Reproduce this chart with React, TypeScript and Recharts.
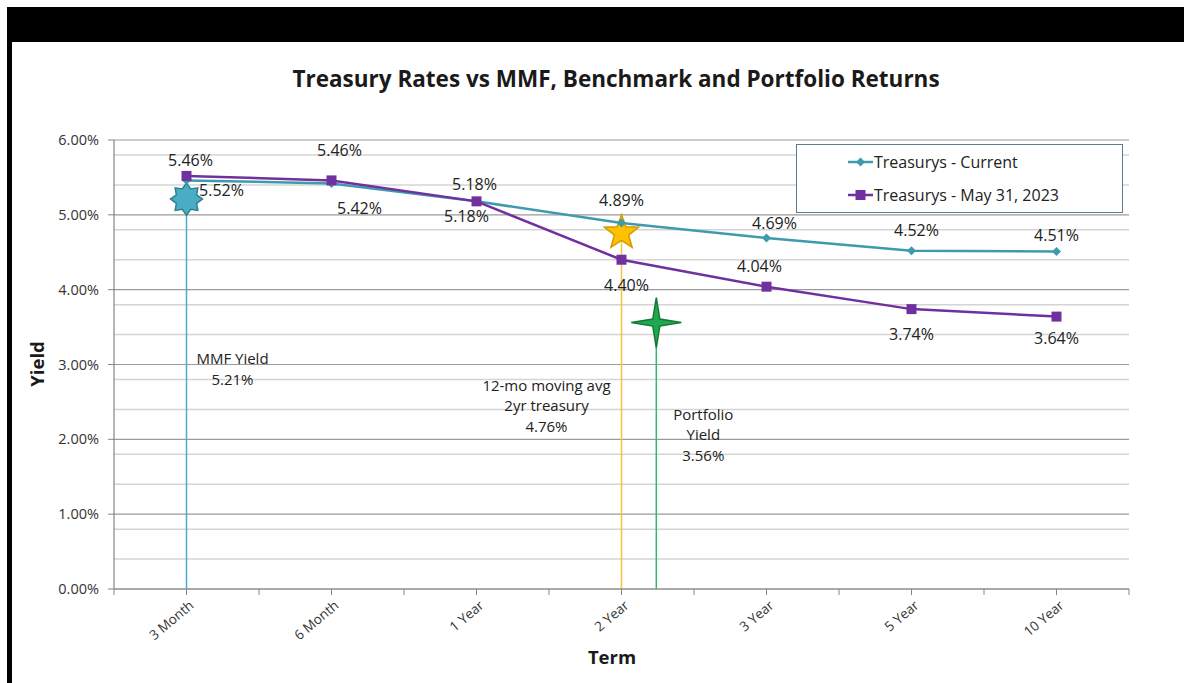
import React from 'react'
import {
  ComposedChart,
  Line,
  Scatter,
  XAxis,
  YAxis,
  CartesianGrid,
  ReferenceLine,
  Legend,
} from 'recharts'

// categories and series values
const terms = ['3 Month', '6 Month', '1 Year', '2 Year', '3 Year', '5 Year', '10 Year']
const current = [5.46, 5.42, 5.18, 4.89, 4.69, 4.52, 4.51]
const may2023 = [5.52, 5.46, 5.18, 4.4, 4.04, 3.74, 3.64]

// marker annotations (x in category index units)
const markerX = [0, 3, 3.24]
const markerY = [5.21, 4.76, 3.56]
const markerText = [
  ['MMF Yield', '5.21%'],
  ['12-mo moving avg', '2yr treasury', '4.76%'],
  ['Portfolio', 'Yield', '3.56%'],
]

const yTicks = [0, 1, 2, 3, 4, 5, 6]
const minorGrid = [0.2, 0.4, 0.6, 0.8, 1.2, 1.4, 1.6, 1.8, 2.2, 2.4, 2.6, 2.8, 3.2, 3.4, 3.6, 3.8, 4.2, 4.4, 4.6, 4.8, 5.2, 5.4, 5.6, 5.8]

const TEAL = '#3E9BAE'
const PURPLE = '#7030A0'
const FONT = '"Open Sans", sans-serif'

const rows = terms.map((t, i) => ({ x: i, term: t, cur: current[i], may: may2023[i] }))
const markers = markerX.map((x, i) => ({ x, y: markerY[i], i }))
const xTicks = terms.flatMap((_, i) => [i - 0.5, i]).concat(terms.length - 0.5)

// label nudges relative to the point (placement only)
const curNudge = [[4, -20], [28, 25], [-2, -17], [0, -23], [8, -15], [5, -21], [0, -17]]
const mayNudge = [[35, 14], [8, -30], [-10, 15], [5, 25], [-7, -21], [0, 25], [0, 21]]
const markerStyle = [
  { fill: '#4BACC6', stroke: '#2F7F92', pts: 8, R: 16, r: 11, line: '#4BACC6', dx: 46, dy: 159 },
  { fill: '#FFC000', stroke: '#D39B00', pts: 5, R: 18, r: 7.5, line: '#F5C342', dx: -75, dy: 152 },
  { fill: '#1FA84F', stroke: '#127A36', pts: 4, R: 25, r: 5, line: '#35B86E', dx: 47, dy: 91 },
]

const starPath = (cx: number, cy: number, n: number, R: number, r: number) => {
  const p: string[] = []
  for (let k = 0; k < n * 2; k++) {
    const a = -Math.PI / 2 + (k * Math.PI) / n
    const rad = k % 2 === 0 ? R : r
    p.push(`${cx + rad * Math.cos(a)},${cy + rad * Math.sin(a)}`)
  }
  return p.join(' ')
}

const makeLabel = (nudge: number[][]) => (props: any) => {
  const { x, y, value, index } = props
  const [dx, dy] = nudge[index] || [0, -15]
  return (
    <text x={x + dx} y={y + dy} textAnchor="middle" dominantBaseline="central" fontSize={16} fontFamily={FONT} fill="#222">
      {`${Number(value).toFixed(2)}%`}
    </text>
  )
}

const Diamond = (props: any) => {
  const { cx, cy } = props
  if (cx == null) return null
  return <polygon points={`${cx},${cy - 4.5} ${cx + 4.5},${cy} ${cx},${cy + 4.5} ${cx - 4.5},${cy}`} fill={TEAL} />
}

const Square = (props: any) => {
  const { cx, cy } = props
  if (cx == null) return null
  return <rect x={cx - 5} y={cy - 5} width={10} height={10} fill={PURPLE} />
}

const StarMarker = (props: any) => {
  const { cx, cy, payload } = props
  const s = markerStyle[payload.i]
  const lines = markerText[payload.i]
  return (
    <g>
      <polygon points={starPath(cx, cy, s.pts, s.R, s.r)} fill={s.fill} stroke={s.stroke} strokeWidth={1.5} />
      {lines.map((t, k) => (
        <text key={k} x={cx + s.dx} y={cy + s.dy + k * 20.5} textAnchor="middle" dominantBaseline="central" fontSize={15} fontFamily={FONT} fill="#222">
          {t}
        </text>
      ))}
    </g>
  )
}

const XTick = (props: any) => {
  const { x, y, payload } = props
  const v = payload.value
  if (!Number.isInteger(v)) return null
  const tx = x + 5
  const ty = y + 6
  return (
    <text x={tx} y={ty} transform={`rotate(-40 ${tx} ${ty})`} textAnchor="end" dominantBaseline="central" fontSize={13.5} fontFamily={FONT} fill="#333">
      {terms[v]}
    </text>
  )
}

const LegendBox = () => (
  <div style={{ width: 327, height: 69, border: '1.5px solid #5B7F8A', background: '#fff', fontFamily: FONT, fontSize: 16, color: '#222', boxSizing: 'border-box', paddingLeft: 51 }}>
    {[
      { name: 'Treasurys - Current', color: TEAL, mark: 'd' },
      { name: 'Treasurys - May 31, 2023', color: PURPLE, mark: 's' },
    ].map((it, k) => (
      <div key={k} style={{ display: 'flex', alignItems: 'center', height: 22, marginTop: k === 0 ? 6 : 11 }}>
        <svg width={25} height={12} style={{ marginRight: 1 }}>
          <line x1={0} y1={6} x2={25} y2={6} stroke={it.color} strokeWidth={2.5} />
          {it.mark === 'd' ? (
            <polygon points="12.5,1.5 17,6 12.5,10.5 8,6" fill={it.color} />
          ) : (
            <rect x={7.5} y={1} width={10} height={10} fill={it.color} />
          )}
        </svg>
        <span>{it.name}</span>
      </div>
    ))}
  </div>
)

export default function App() {
  return (
    <div style={{ position: 'absolute', left: 0, top: 0, width: 1184, height: 683, background: '#fff', overflow: 'hidden' }}>
      <div style={{ position: 'absolute', left: 7, top: 7, width: 1177, height: 35, background: '#000' }} />
      <div style={{ position: 'absolute', left: 7, top: 7, width: 5, height: 676, background: '#000' }} />
      <div style={{ position: 'absolute', left: 616, top: 63, transform: 'translateX(-50%)', whiteSpace: 'nowrap', fontFamily: FONT, fontWeight: 700, fontSize: 22.5, color: '#1a1a1a' }}>
        Treasury Rates vs MMF, Benchmark and Portfolio Returns
      </div>
      <div style={{ position: 'absolute', left: 612, top: 644, transform: 'translateX(-50%)', fontFamily: FONT, fontWeight: 700, fontSize: 18.5, color: '#1a1a1a' }}>
        Term
      </div>
      <div style={{ position: 'absolute', left: 36, top: 364, transform: 'translate(-50%, -50%) rotate(-90deg)', fontFamily: FONT, fontWeight: 700, fontSize: 18.5, color: '#1a1a1a' }}>
        Yield
      </div>
      <div style={{ position: 'absolute', left: 0, top: 0 }}>
        <ComposedChart width={1184} height={683} data={rows} margin={{ top: 140, right: 55, bottom: 34, left: 34 }}>
          <CartesianGrid horizontal vertical={false} horizontalValues={minorGrid} stroke="#D4D4D4" strokeWidth={1.5} />
          <CartesianGrid horizontal vertical={false} horizontalValues={yTicks} stroke="#9A9A9A" strokeWidth={1.2} />
          <XAxis
            dataKey="x"
            type="number"
            domain={[-0.5, terms.length - 0.5]}
            ticks={xTicks}
            interval={0}
            height={60}
            tick={<XTick />}
            tickSize={6}
            tickLine={{ stroke: '#868686' }}
            axisLine={{ stroke: '#868686', strokeWidth: 1.2 }}
          />
          <YAxis
            type="number"
            domain={[0, 6]}
            ticks={yTicks}
            width={80}
            tickSize={6}
            tickMargin={9}
            tickFormatter={(v: number) => `${v.toFixed(2)}%`}
            tick={{ fontSize: 14.5, fontFamily: FONT, fill: '#333' }}
            tickLine={{ stroke: '#868686' }}
            axisLine={{ stroke: '#868686', strokeWidth: 1.2 }}
          />
          {markers.map((m) => (
            <ReferenceLine
              key={m.i}
              segment={[{ x: m.x, y: 0 }, { x: m.x, y: m.y }]}
              stroke={markerStyle[m.i].line}
              strokeWidth={1.5}
            />
          ))}
          <Line
            type="linear"
            dataKey="cur"
            name="Treasurys - Current"
            stroke={TEAL}
            strokeWidth={2.5}
            dot={<Diamond />}
            label={makeLabel(curNudge)}
            isAnimationActive={false}
          />
          <Line
            type="linear"
            dataKey="may"
            name="Treasurys - May 31, 2023"
            stroke={PURPLE}
            strokeWidth={2.5}
            dot={<Square />}
            label={makeLabel(mayNudge)}
            isAnimationActive={false}
          />
          <Scatter data={markers} dataKey="y" shape={<StarMarker />} isAnimationActive={false} />
          <Legend
            layout="horizontal"
            verticalAlign="middle"
            content={<LegendBox />}
            wrapperStyle={{ position: 'absolute', left: 796, top: 144, width: 327 }}
          />
        </ComposedChart>
      </div>
    </div>
  )
}
